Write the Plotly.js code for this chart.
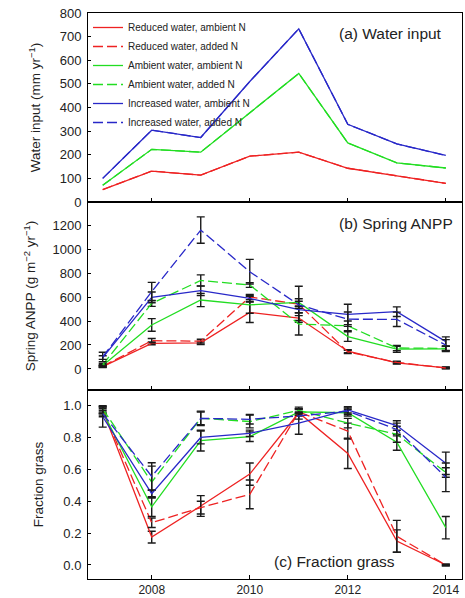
<!DOCTYPE html>
<html><head><meta charset="utf-8">
<script src="https://cdn.plot.ly/plotly-3.0.1.min.js"></script>
<style>html,body{margin:0;padding:0;background:#fff}#chart{width:465px;height:598px}</style>
</head><body><div id="chart"></div>
<script>
// ---- data ----
const years = [2007, 2008, 2009, 2010, 2011, 2012, 2013, 2014];
const xTickVals = [2008, 2010, 2012, 2014];
const seriesNames = [
  "Reduced water, ambient N", "Reduced water, added N",
  "Ambient water, ambient N", "Ambient water, added N",
  "Increased water, ambient N", "Increased water, added N"
];

// (a) Water input (mm/yr) - same for ambient N and added N
const waterReduced   = [53, 131, 114, 194, 211, 143, 111, 79];
const waterAmbient   = [71, 223, 211, 376, 544, 250, 166, 144];
const waterIncreased = [100, 304, 273, 510, 733, 329, 246, 197];

// (b) Spring ANPP (g m-2 yr-1)
const anppRedAmb = [20, 214, 218, 472, 425, 148, 50, 10];
const anppRedAdd = [22, 236, 232, 600, 540, 142, 55, 8];
const anppAmbAmb = [28, 367, 575, 535, 555, 270, 165, 168];
const anppAmbAdd = [35, 547, 738, 700, 375, 360, 175, 172];
const anppIncAmb = [95, 597, 653, 588, 495, 455, 478, 228];
const anppIncAdd = [100, 645, 1158, 811, 535, 415, 414, 200];
const anppErrRedAmb = [8, 12, 14, 85, 20, 12, 8, 6];
const anppErrRedAdd = [8, 18, 16, 22, 150, 14, 9, 6];
const anppErrAmbAmb = [8, 53, 55, 70, 30, 40, 25, 22];
const anppErrAmbAdd = [10, 25, 47, 20, 92, 40, 22, 20];
const anppErrIncAmb = [15, 45, 40, 25, 25, 85, 40, 40];
const anppErrIncAdd = [40, 77, 110, 103, 30, 60, 60, 45];

// (c) Fraction grass
const grassRedAmb = [0.97, 0.175, 0.37, 0.57, 0.955, 0.70, 0.15, 0.0];
const grassRedAdd = [0.97, 0.265, 0.36, 0.443, 0.96, 0.84, 0.18, 0.0];
const grassAmbAmb = [0.96, 0.365, 0.78, 0.805, 0.96, 0.955, 0.77, 0.234];
const grassAmbAdd = [0.98, 0.52, 0.92, 0.90, 0.97, 0.89, 0.82, 0.58];
const grassIncAmb = [0.93, 0.448, 0.80, 0.826, 0.89, 0.973, 0.875, 0.638];
const grassIncAdd = [0.95, 0.556, 0.92, 0.914, 0.935, 0.965, 0.85, 0.55];
const grassErrRedAmb = [0.02, 0.037, 0.065, 0.07, 0.02, 0.095, 0.07, 0.005];
const grassErrRedAdd = [0.02, 0.03, 0.04, 0.09, 0.02, 0.05, 0.10, 0.005];
const grassErrAmbAmb = [0.02, 0.06, 0.065, 0.03, 0.02, 0.02, 0.05, 0.07];
const grassErrAmbAdd = [0.02, 0.10, 0.04, 0.04, 0.02, 0.03, 0.05, 0.03];
const grassErrIncAmb = [0.065, 0.02, 0.04, 0.02, 0.07, 0.02, 0.03, 0.07];
const grassErrIncAdd = [0.02, 0.085, 0.045, 0.03, 0.02, 0.02, 0.04, 0.09];

// ---- styles ----
const RED = '#ee2222', GREEN = '#22dd22', BLUE = '#2828c8';
const colors = [RED, RED, GREEN, GREEN, BLUE, BLUE];
const dashes = ['solid', '10px,4px', 'solid', '10px,4px', 'solid', '10px,4px'];
const waterData = [waterReduced, waterReduced, waterAmbient, waterAmbient, waterIncreased, waterIncreased];
const anppData = [anppRedAmb, anppRedAdd, anppAmbAmb, anppAmbAdd, anppIncAmb, anppIncAdd];
const anppErr = [anppErrRedAmb, anppErrRedAdd, anppErrAmbAmb, anppErrAmbAdd, anppErrIncAmb, anppErrIncAdd];
const grassData = [grassRedAmb, grassRedAdd, grassAmbAmb, grassAmbAdd, grassIncAmb, grassIncAdd];
const grassErr = [grassErrRedAmb, grassErrRedAdd, grassErrAmbAmb, grassErrAmbAdd, grassErrIncAmb, grassErrIncAdd];

const FONT = 'Arial, Liberation Sans, sans-serif';
const traces = [];
const errStyle = (arr) => ({type: 'data', array: arr, visible: true, color: '#1a1a1a', thickness: 1.4, width: 4});
for (let i = 0; i < 6; i++) {
  traces.push({x: years, y: waterData[i], xaxis: 'x', yaxis: 'y', mode: 'lines', name: seriesNames[i],
    line: {color: colors[i], width: 1.3, dash: dashes[i]}, showlegend: true});
}
for (let i = 0; i < 6; i++) {
  traces.push({x: years, y: anppData[i], xaxis: 'x2', yaxis: 'y2', mode: 'lines', name: seriesNames[i],
    line: {color: colors[i], width: 1.3, dash: dashes[i]}, showlegend: false, error_y: errStyle(anppErr[i])});
}
for (let i = 0; i < 6; i++) {
  traces.push({x: years, y: grassData[i], xaxis: 'x3', yaxis: 'y3', mode: 'lines', name: seriesNames[i],
    line: {color: colors[i], width: 1.3, dash: dashes[i]}, showlegend: false, error_y: errStyle(grassErr[i])});
}

const TXT = '#222';
const xBase = {range: [2006.70, 2014.33], tickvals: xTickVals, ticks: 'inside', ticklen: 4, tickcolor: '#000',
  showline: true, mirror: true, linecolor: '#000', linewidth: 1, showgrid: false, zeroline: false,
  tickfont: {family: FONT, size: 12, color: TXT}};
const yBase = {ticks: 'inside', ticklen: 3, tickcolor: '#000', showline: true, mirror: true, linecolor: '#000',
  linewidth: 1, showgrid: false, zeroline: false, ticklabelstandoff: 3,
  tickfont: {family: FONT, size: 13, color: TXT}};
const titleFont = {family: FONT, size: 13.5, color: TXT};

const layout = {
  width: 465, height: 598,
  margin: {l: 88, r: 3, t: 13, b: 19},
  paper_bgcolor: '#fff', plot_bgcolor: '#fff',
  showlegend: true,
  legend: {x: 0.0, y: 1.0, xanchor: 'left', yanchor: 'top', bgcolor: 'rgba(0,0,0,0)',
    font: {family: FONT, size: 10, color: TXT}, tracegroupgap: 0, itemwidth: 30},
  xaxis: Object.assign({}, xBase, {anchor: 'y', showticklabels: false}),
  xaxis2: Object.assign({}, xBase, {anchor: 'y2', matches: 'x', showticklabels: false}),
  xaxis3: Object.assign({}, xBase, {anchor: 'y3', matches: 'x', ticklabelstandoff: 0}),
  yaxis: Object.assign({}, yBase, {domain: [0.666, 1], range: [0, 800], dtick: 100, tick0: 0,
    title: {text: 'Water input (mm yr<sup>\u22121</sup>)', font: titleFont, standoff: 15}}),
  yaxis2: Object.assign({}, yBase, {domain: [0.334, 0.666], range: [-175, 1392],
    tickvals: [0, 200, 400, 600, 800, 1000, 1200],
    title: {text: 'Spring ANPP (g m<sup>\u22122</sup> yr<sup>\u22121</sup>)', font: titleFont, standoff: 13}}),
  yaxis3: Object.assign({}, yBase, {domain: [0, 0.334], range: [-0.088, 1.098],
    tickvals: [0, 0.2, 0.4, 0.6, 0.8, 1.0], tickformat: '.1f',
    title: {text: 'Fraction grass', font: titleFont, standoff: 16}}),
  annotations: [
    {text: '(a) Water input', xref: 'x domain', yref: 'y domain', x: 0.952, y: 0.894,
      xanchor: 'right', yanchor: 'middle', showarrow: false,
      font: {family: FONT, size: 15.5, color: TXT}},
    {text: '(b) Spring ANPP', xref: 'x2 domain', yref: 'y2 domain', x: 0.981, y: 0.888,
      xanchor: 'right', yanchor: 'middle', showarrow: false,
      font: {family: FONT, size: 15.5, color: TXT}},
    {text: '(c) Fraction grass', xref: 'x3 domain', yref: 'y3 domain', x: 0.826, y: 0.09,
      xanchor: 'right', yanchor: 'middle', showarrow: false,
      font: {family: FONT, size: 15.5, color: TXT}}
  ]
};

Plotly.newPlot('chart', traces, layout, {displayModeBar: false, staticPlot: true});
</script>
</body></html>
